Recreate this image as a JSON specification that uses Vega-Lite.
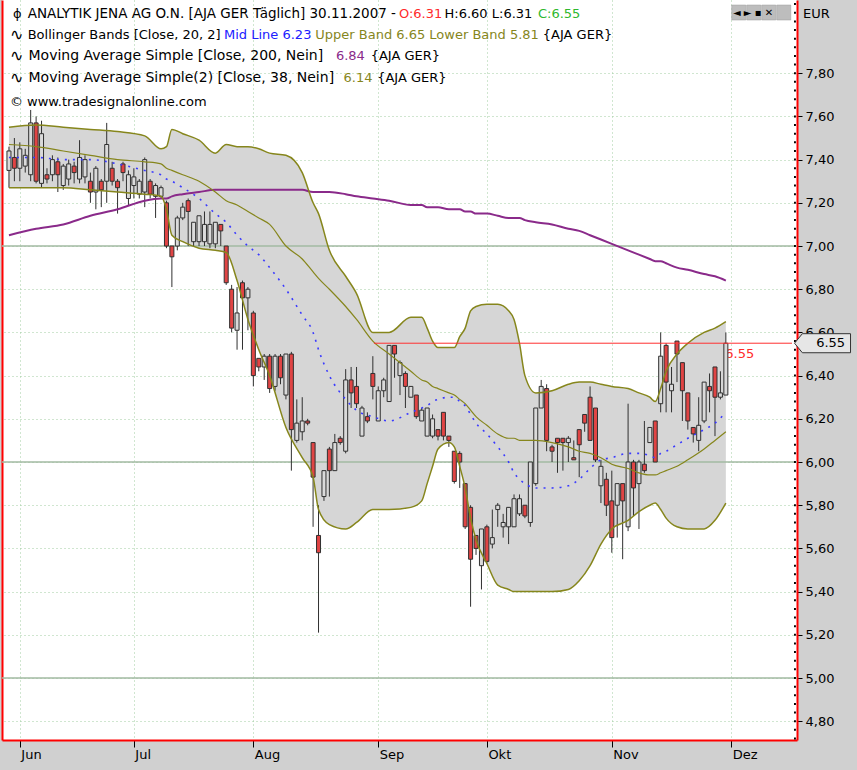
{
"$schema": "https://vega.github.io/schema/vega-lite/v6.json",
"width": 795,
"height": 740,
"autosize": {"type": "none"},
"padding": {"left": 2, "top": 0, "right": 60, "bottom": 30},
"background": "#d0d0d0",
"config": {"view": {"fill": "#ffffff", "stroke": null}, "text": {"font": "DejaVu Sans"}},
"datasets": {
"candles": [
{"i":0,"o":7.35,"h":7.46,"l":7.27,"c":7.44},{"i":1,"o":7.41,"h":7.50,"l":7.30,"c":7.36},{"i":2,"o":7.36,"h":7.48,"l":7.30,"c":7.45},{"i":3,"o":7.37,"h":7.45,"l":7.34,"c":7.42},{"i":4,"o":7.33,"h":7.63,"l":7.30,"c":7.57},{"i":5,"o":7.57,"h":7.60,"l":7.29,"c":7.30},{"i":6,"o":7.29,"h":7.58,"l":7.27,"c":7.52},{"i":7,"o":7.33,"h":7.36,"l":7.29,"c":7.31},{"i":8,"o":7.33,"h":7.42,"l":7.30,"c":7.40},{"i":9,"o":7.39,"h":7.41,"l":7.25,"c":7.33},
{"i":10,"o":7.28,"h":7.38,"l":7.26,"c":7.37},{"i":11,"o":7.31,"h":7.40,"l":7.28,"c":7.38},{"i":12,"o":7.37,"h":7.39,"l":7.29,"c":7.34},{"i":13,"o":7.31,"h":7.49,"l":7.29,"c":7.41},{"i":14,"o":7.32,"h":7.42,"l":7.29,"c":7.40},{"i":15,"o":7.30,"h":7.34,"l":7.20,"c":7.25},{"i":16,"o":7.25,"h":7.37,"l":7.17,"c":7.36},{"i":17,"o":7.30,"h":7.31,"l":7.18,"c":7.26},{"i":18,"o":7.30,"h":7.57,"l":7.20,"c":7.47},{"i":19,"o":7.36,"h":7.39,"l":7.28,"c":7.30},
{"i":20,"o":7.30,"h":7.31,"l":7.15,"c":7.27},{"i":21,"o":7.38,"h":7.39,"l":7.30,"c":7.34},{"i":22,"o":7.22,"h":7.35,"l":7.19,"c":7.33},{"i":23,"o":7.28,"h":7.36,"l":7.22,"c":7.32},{"i":24,"o":7.24,"h":7.31,"l":7.22,"c":7.30},{"i":25,"o":7.25,"h":7.41,"l":7.18,"c":7.40},{"i":26,"o":7.30,"h":7.31,"l":7.22,"c":7.24},{"i":27,"o":7.23,"h":7.29,"l":7.13,"c":7.28},{"i":28,"o":7.23,"h":7.28,"l":7.22,"c":7.27},{"i":29,"o":7.20,"h":7.21,"l":6.99,"c":7.00},
{"i":30,"o":7.00,"h":7.00,"l":6.81,"c":6.95},{"i":31,"o":7.00,"h":7.14,"l":6.98,"c":7.13},{"i":32,"o":7.13,"h":7.20,"l":7.12,"c":7.18},{"i":33,"o":7.21,"h":7.22,"l":7.00,"c":7.16},{"i":34,"o":7.02,"h":7.11,"l":7.00,"c":7.11},{"i":35,"o":7.02,"h":7.14,"l":7.00,"c":7.14},{"i":36,"o":7.02,"h":7.16,"l":7.00,"c":7.10},{"i":37,"o":7.01,"h":7.16,"l":6.99,"c":7.10},{"i":38,"o":7.01,"h":7.11,"l":6.99,"c":7.11},{"i":39,"o":7.10,"h":7.10,"l":7.00,"c":7.07},
{"i":40,"o":7.00,"h":7.00,"l":6.82,"c":6.83},{"i":41,"o":6.80,"h":6.82,"l":6.60,"c":6.62},{"i":42,"o":6.61,"h":6.81,"l":6.52,"c":6.69},{"i":43,"o":6.83,"h":6.84,"l":6.52,"c":6.76},{"i":44,"o":6.76,"h":6.81,"l":6.61,"c":6.80},{"i":45,"o":6.69,"h":6.70,"l":6.35,"c":6.40},{"i":46,"o":6.48,"h":6.48,"l":6.42,"c":6.44},{"i":47,"o":6.44,"h":6.50,"l":6.38,"c":6.49},{"i":48,"o":6.49,"h":6.50,"l":6.32,"c":6.34},{"i":49,"o":6.35,"h":6.50,"l":6.33,"c":6.49},
{"i":50,"o":6.49,"h":6.50,"l":6.36,"c":6.39},{"i":51,"o":6.31,"h":6.50,"l":6.29,"c":6.50},{"i":52,"o":6.50,"h":6.51,"l":5.96,"c":6.15},{"i":53,"o":6.10,"h":6.29,"l":6.09,"c":6.18},{"i":54,"o":6.14,"h":6.30,"l":6.10,"c":6.19},{"i":55,"o":6.19,"h":6.20,"l":6.17,"c":6.18},{"i":56,"o":6.09,"h":6.09,"l":5.70,"c":5.93},{"i":57,"o":5.66,"h":5.80,"l":5.21,"c":5.58},{"i":58,"o":5.84,"h":5.96,"l":5.82,"c":5.96},{"i":59,"o":6.06,"h":6.07,"l":5.84,"c":5.96},
{"i":60,"o":5.96,"h":6.13,"l":5.96,"c":6.09},{"i":61,"o":6.11,"h":6.12,"l":6.08,"c":6.09},{"i":62,"o":6.05,"h":6.43,"l":6.04,"c":6.38},{"i":63,"o":6.38,"h":6.44,"l":6.25,"c":6.32},{"i":64,"o":6.35,"h":6.44,"l":6.25,"c":6.27},{"i":65,"o":6.12,"h":6.26,"l":6.12,"c":6.25},{"i":66,"o":6.21,"h":6.23,"l":6.18,"c":6.19},{"i":67,"o":6.41,"h":6.49,"l":6.29,"c":6.35},{"i":68,"o":6.19,"h":6.35,"l":6.19,"c":6.33},{"i":69,"o":6.33,"h":6.39,"l":6.30,"c":6.38},
{"i":70,"o":6.28,"h":6.54,"l":6.28,"c":6.54},{"i":71,"o":6.54,"h":6.54,"l":6.39,"c":6.50},{"i":72,"o":6.40,"h":6.47,"l":6.31,"c":6.46},{"i":73,"o":6.41,"h":6.42,"l":6.25,"c":6.35},{"i":74,"o":6.30,"h":6.35,"l":6.30,"c":6.35},{"i":75,"o":6.31,"h":6.31,"l":6.20,"c":6.21},{"i":76,"o":6.19,"h":6.25,"l":6.19,"c":6.24},{"i":77,"o":6.12,"h":6.25,"l":6.12,"c":6.25},{"i":78,"o":6.12,"h":6.22,"l":6.11,"c":6.20},{"i":79,"o":6.15,"h":6.15,"l":6.10,"c":6.12},
{"i":80,"o":6.23,"h":6.23,"l":6.10,"c":6.12},{"i":81,"o":6.12,"h":6.12,"l":6.07,"c":6.10},{"i":82,"o":6.05,"h":6.05,"l":5.90,"c":5.91},{"i":83,"o":6.04,"h":6.05,"l":5.88,"c":6.00},{"i":84,"o":5.90,"h":5.90,"l":5.69,"c":5.70},{"i":85,"o":5.79,"h":5.80,"l":5.33,"c":5.55},{"i":86,"o":5.66,"h":5.66,"l":5.57,"c":5.60},{"i":87,"o":5.52,"h":5.69,"l":5.41,"c":5.69},{"i":88,"o":5.70,"h":5.71,"l":5.53,"c":5.54},{"i":89,"o":5.62,"h":5.78,"l":5.60,"c":5.65},
{"i":90,"o":5.78,"h":5.81,"l":5.70,"c":5.80},{"i":91,"o":5.70,"h":5.76,"l":5.65,"c":5.72},{"i":92,"o":5.70,"h":5.79,"l":5.62,"c":5.79},{"i":93,"o":5.70,"h":5.85,"l":5.70,"c":5.83},{"i":94,"o":5.76,"h":5.85,"l":5.75,"c":5.83},{"i":95,"o":5.80,"h":5.80,"l":5.74,"c":5.75},{"i":96,"o":5.72,"h":6.00,"l":5.70,"c":6.00},{"i":97,"o":5.90,"h":6.25,"l":5.89,"c":6.25},{"i":98,"o":6.25,"h":6.38,"l":6.25,"c":6.35},{"i":99,"o":6.34,"h":6.36,"l":6.05,"c":6.10},
{"i":100,"o":6.07,"h":6.08,"l":6.00,"c":6.05},{"i":101,"o":6.11,"h":6.11,"l":5.95,"c":6.09},{"i":102,"o":6.11,"h":6.11,"l":5.96,"c":6.09},{"i":103,"o":6.09,"h":6.12,"l":6.00,"c":6.11},{"i":104,"o":6.02,"h":6.10,"l":6.01,"c":6.01},{"i":105,"o":6.15,"h":6.15,"l":5.93,"c":6.08},{"i":106,"o":6.22,"h":6.22,"l":6.14,"c":6.18},{"i":107,"o":6.30,"h":6.35,"l":6.10,"c":6.10},{"i":108,"o":6.25,"h":6.25,"l":6.00,"c":6.01},{"i":109,"o":5.89,"h":6.01,"l":5.81,"c":5.98},
{"i":110,"o":5.92,"h":5.95,"l":5.75,"c":5.80},{"i":111,"o":5.82,"h":5.96,"l":5.58,"c":5.65},{"i":112,"o":5.80,"h":5.90,"l":5.65,"c":5.90},{"i":113,"o":5.90,"h":5.90,"l":5.55,"c":5.82},{"i":114,"o":5.70,"h":6.27,"l":5.68,"c":6.00},{"i":115,"o":6.00,"h":6.01,"l":5.75,"c":5.88},{"i":116,"o":5.90,"h":6.01,"l":5.69,"c":6.00},{"i":117,"o":5.99,"h":6.19,"l":5.95,"c":5.96},{"i":118,"o":6.09,"h":6.16,"l":6.09,"c":6.16},{"i":119,"o":6.19,"h":6.19,"l":6.00,"c":6.00},
{"i":120,"o":6.27,"h":6.60,"l":6.23,"c":6.49},{"i":121,"o":6.54,"h":6.55,"l":6.23,"c":6.37},{"i":122,"o":6.33,"h":6.44,"l":6.23,"c":6.36},{"i":123,"o":6.56,"h":6.56,"l":6.37,"c":6.50},{"i":124,"o":6.46,"h":6.46,"l":6.19,"c":6.33},{"i":125,"o":6.32,"h":6.32,"l":6.15,"c":6.19},{"i":126,"o":6.16,"h":6.16,"l":6.09,"c":6.13},{"i":127,"o":6.10,"h":6.30,"l":6.05,"c":6.17},{"i":128,"o":6.19,"h":6.37,"l":6.18,"c":6.37},{"i":129,"o":6.35,"h":6.41,"l":6.23,"c":6.33},
{"i":130,"o":6.44,"h":6.44,"l":6.12,"c":6.30},{"i":131,"o":6.30,"h":6.42,"l":6.29,"c":6.32},{"i":132,"o":6.31,"h":6.60,"l":6.31,"c":6.55}
],
"bands": [
{"i":0,"up":7.55,"lo":7.27,"mid":7.41,"m38":7.47,"m200":7.05},
{"i":5,"up":7.56,"lo":7.27,"mid":7.41,"m38":7.46,"m200":7.08},
{"i":10,"up":7.55,"lo":7.27,"mid":7.40,"m38":7.44,"m200":7.10},
{"i":15,"up":7.54,"lo":7.26,"mid":7.40,"m38":7.42,"m200":7.14},
{"i":20,"up":7.53,"lo":7.25,"mid":7.38,"m38":7.40,"m200":7.17},
{"i":25,"up":7.51,"lo":7.24,"mid":7.35,"m38":7.39,"m200":7.21},
{"i":28,"up":7.45,"lo":7.23,"mid":7.33,"m38":7.38,"m200":7.22},
{"i":29,"up":7.46,"lo":7.17,"mid":7.31,"m38":7.36,"m200":7.22},
{"i":30,"up":7.54,"lo":7.05,"mid":7.30,"m38":7.35,"m200":7.23},
{"i":32,"up":7.52,"lo":7.02,"mid":7.27,"m38":7.33,"m200":7.24},
{"i":35,"up":7.49,"lo":6.99,"mid":7.22,"m38":7.30,"m200":7.25},
{"i":38,"up":7.43,"lo":6.98,"mid":7.15,"m38":7.25,"m200":7.26},
{"i":40,"up":7.47,"lo":6.97,"mid":7.11,"m38":7.21,"m200":7.26},
{"i":42,"up":7.46,"lo":6.84,"mid":7.05,"m38":7.19,"m200":7.26},
{"i":44,"up":7.46,"lo":6.66,"mid":7.00,"m38":7.16,"m200":7.26},
{"i":46,"up":7.45,"lo":6.52,"mid":6.96,"m38":7.13,"m200":7.26},
{"i":48,"up":7.43,"lo":6.40,"mid":6.90,"m38":7.10,"m200":7.26},
{"i":51,"up":7.42,"lo":6.16,"mid":6.80,"m38":7.00,"m200":7.26},
{"i":54,"up":7.34,"lo":6.02,"mid":6.68,"m38":6.94,"m200":7.26},
{"i":56,"up":7.20,"lo":5.93,"mid":6.60,"m38":6.88,"m200":7.25},
{"i":57,"up":7.15,"lo":5.78,"mid":6.52,"m38":6.85,"m200":7.25},
{"i":59,"up":6.98,"lo":5.71,"mid":6.40,"m38":6.80,"m200":7.25},
{"i":62,"up":6.86,"lo":5.69,"mid":6.29,"m38":6.72,"m200":7.24},
{"i":64,"up":6.78,"lo":5.72,"mid":6.24,"m38":6.66,"m200":7.23},
{"i":67,"up":6.60,"lo":5.78,"mid":6.21,"m38":6.56,"m200":7.22},
{"i":70,"up":6.60,"lo":5.78,"mid":6.19,"m38":6.50,"m200":7.21},
{"i":74,"up":6.67,"lo":5.79,"mid":6.23,"m38":6.42,"m200":7.19},
{"i":76,"up":6.67,"lo":5.82,"mid":6.25,"m38":6.38,"m200":7.19},
{"i":77,"up":6.62,"lo":5.90,"mid":6.26,"m38":6.37,"m200":7.18},
{"i":78,"up":6.56,"lo":5.98,"mid":6.28,"m38":6.35,"m200":7.18},
{"i":79,"up":6.53,"lo":6.06,"mid":6.29,"m38":6.34,"m200":7.18},
{"i":81,"up":6.53,"lo":6.09,"mid":6.30,"m38":6.32,"m200":7.17},
{"i":82,"up":6.53,"lo":6.07,"mid":6.30,"m38":6.31,"m200":7.17},
{"i":83,"up":6.58,"lo":5.98,"mid":6.28,"m38":6.29,"m200":7.17},
{"i":84,"up":6.62,"lo":5.88,"mid":6.26,"m38":6.27,"m200":7.16},
{"i":85,"up":6.70,"lo":5.74,"mid":6.22,"m38":6.24,"m200":7.16},
{"i":86,"up":6.72,"lo":5.64,"mid":6.18,"m38":6.21,"m200":7.15},
{"i":88,"up":6.73,"lo":5.53,"mid":6.13,"m38":6.17,"m200":7.15},
{"i":90,"up":6.73,"lo":5.43,"mid":6.07,"m38":6.13,"m200":7.14},
{"i":92,"up":6.70,"lo":5.41,"mid":6.00,"m38":6.11,"m200":7.13},
{"i":93,"up":6.66,"lo":5.40,"mid":5.95,"m38":6.11,"m200":7.13},
{"i":94,"up":6.55,"lo":5.40,"mid":5.92,"m38":6.10,"m200":7.13},
{"i":95,"up":6.40,"lo":5.40,"mid":5.90,"m38":6.10,"m200":7.12},
{"i":97,"up":6.32,"lo":5.40,"mid":5.88,"m38":6.10,"m200":7.11},
{"i":100,"up":6.33,"lo":5.40,"mid":5.88,"m38":6.09,"m200":7.10},
{"i":103,"up":6.36,"lo":5.41,"mid":5.89,"m38":6.07,"m200":7.08},
{"i":105,"up":6.37,"lo":5.45,"mid":5.92,"m38":6.05,"m200":7.07},
{"i":107,"up":6.37,"lo":5.52,"mid":5.97,"m38":6.04,"m200":7.05},
{"i":109,"up":6.36,"lo":5.62,"mid":6.01,"m38":6.02,"m200":7.03},
{"i":111,"up":6.35,"lo":5.69,"mid":6.02,"m38":5.99,"m200":7.01},
{"i":114,"up":6.34,"lo":5.73,"mid":6.04,"m38":5.97,"m200":6.98},
{"i":116,"up":6.32,"lo":5.77,"mid":6.04,"m38":5.95,"m200":6.96},
{"i":118,"up":6.30,"lo":5.80,"mid":6.03,"m38":5.94,"m200":6.94},
{"i":119,"up":6.28,"lo":5.81,"mid":6.02,"m38":5.94,"m200":6.93},
{"i":120,"up":6.34,"lo":5.78,"mid":6.04,"m38":5.95,"m200":6.93},
{"i":121,"up":6.42,"lo":5.74,"mid":6.05,"m38":5.96,"m200":6.92},
{"i":123,"up":6.50,"lo":5.70,"mid":6.08,"m38":5.98,"m200":6.90},
{"i":125,"up":6.55,"lo":5.69,"mid":6.11,"m38":6.01,"m200":6.89},
{"i":128,"up":6.60,"lo":5.69,"mid":6.15,"m38":6.06,"m200":6.87},
{"i":130,"up":6.62,"lo":5.73,"mid":6.18,"m38":6.10,"m200":6.86},
{"i":132,"up":6.65,"lo":5.81,"mid":6.23,"m38":6.14,"m200":6.84}
],
"levels": [{"g": 5}, {"g": 6}, {"g": 7}],
"minor": [
{"v":4.72},{"v":4.76},{"v":4.80},{"v":4.84},{"v":4.88},{"v":4.92},{"v":4.96},{"v":5.00},{"v":5.04},{"v":5.08},{"v":5.12},{"v":5.16},{"v":5.20},{"v":5.24},{"v":5.28},{"v":5.32},{"v":5.36},{"v":5.40},{"v":5.44},{"v":5.48},{"v":5.52},{"v":5.56},{"v":5.60},{"v":5.64},{"v":5.68},{"v":5.72},{"v":5.76},{"v":5.80},{"v":5.84},{"v":5.88},{"v":5.92},{"v":5.96},{"v":6.00},{"v":6.04},{"v":6.08},{"v":6.12},{"v":6.16},{"v":6.20},{"v":6.24},{"v":6.28},{"v":6.32},{"v":6.36},{"v":6.40},{"v":6.44},{"v":6.48},{"v":6.52},{"v":6.56},{"v":6.60},{"v":6.64},{"v":6.68},{"v":6.72},{"v":6.76},{"v":6.80},{"v":6.84},{"v":6.88},{"v":6.92},{"v":6.96},{"v":7.00},{"v":7.04},{"v":7.08},{"v":7.12},{"v":7.16},{"v":7.20},{"v":7.24},{"v":7.28},{"v":7.32},{"v":7.36},{"v":7.40},{"v":7.44},{"v":7.48},{"v":7.52},{"v":7.56},{"v":7.60},{"v":7.64},{"v":7.68},{"v":7.72},{"v":7.76},{"v":7.80},{"v":7.84},{"v":7.88},{"v":7.92},{"v":7.96},{"v":8.00},{"v":8.04},{"v":8.08},{"v":8.12}
]
},
"resolve": {"axis": {"x": "independent", "y": "independent"}},
"layer": [
{"data": {"name": "bands"},
 "mark": {"type": "area", "fill": "#d6d6d6", "interpolate": "monotone"},
 "encoding": {
  "x": {"field": "i", "type": "quantitative", "scale": {"domain": [-0.36, 144.18], "nice": false, "zero": false},
        "axis": {"values": [2, 23, 45, 68, 88, 111, 133], "labelExpr": "['Jun','Jul','Aug','Sep','Okt','Nov','Dez'][indexof([2,23,45,68,88,111,133], datum.value)]",
                 "labelAlign": "left", "labelOffset": 1, "labelPadding": 1, "labelFont": "DejaVu Sans", "labelFontSize": 13, "labelColor": "#000000",
                 "tickSize": 7, "tickColor": "#000000", "domainColor": "#ff0000", "domainWidth": 2,
                 "grid": true, "gridColor": "#a0cca0", "gridDash": [1, 3], "title": null}},
  "y": {"field": "up", "type": "quantitative", "scale": {"domain": [4.713, 8.139], "nice": false, "zero": false},
        "axis": {"orient": "left", "labels": false, "ticks": false, "grid": false, "domainColor": "#ff0000", "domainWidth": 2, "title": null}},
  "y2": {"field": "lo"}
 }},
{"data": {"name": "levels"},
 "mark": {"type": "rule", "color": "#a2baa2", "strokeWidth": 1.5},
 "encoding": {"y": {"field": "g", "type": "quantitative", "axis": null}}},
{"data": {"name": "minor"},
 "mark": {"type": "rule", "color": "#000000", "strokeWidth": 2},
 "encoding": {"x": {"datum": 144.55, "type": "quantitative", "axis": null}, "x2": {"datum": 144.9}, "y": {"field": "v", "type": "quantitative", "axis": null}}},
{"data": {"values": [{}]},
 "mark": {"type": "text", "align": "left", "baseline": "middle", "fontSize": 13, "color": "#ff2a2a"},
 "encoding": {"x": {"datum": 131.9, "type": "quantitative", "axis": null}, "y": {"datum": 6.5, "type": "quantitative", "axis": null}, "text": {"value": "6.55"}}},
{"data": {"name": "candles"},
 "mark": {"type": "rule", "color": "#303030", "strokeWidth": 1},
 "encoding": {
  "x": {"field": "i", "type": "quantitative", "axis": null},
  "y": {"field": "l", "type": "quantitative",
        "axis": {"orient": "right", "values": [4.8, 5, 5.2, 5.4, 5.6, 5.8, 6, 6.2, 6.4, 6.6, 6.8, 7, 7.2, 7.4, 7.6, 7.8],
                 "labelExpr": "replace(format(datum.value, '.2f'), '.', ',')", "labelFont": "DejaVu Sans", "labelFontSize": 13, "labelColor": "#000000",
                 "labelPadding": 3, "tickSize": 5, "tickColor": "#000000", "domainColor": "#ff0000", "domainWidth": 2,
                 "grid": true, "gridColor": "#a0cca0", "gridDash": [1, 3], "title": null}},
  "y2": {"field": "h"}
 }},
{"data": {"name": "candles"},
 "mark": {"type": "bar", "size": 4, "stroke": "#303030", "strokeWidth": 1},
 "encoding": {
  "x": {"field": "i", "type": "quantitative", "axis": null},
  "y": {"field": "o", "type": "quantitative", "axis": null},
  "y2": {"field": "c"},
  "fill": {"condition": {"test": "datum.o > datum.c", "value": "#e04444"}, "value": "#dadada"}
 }},
{"data": {"name": "bands"},
 "mark": {"type": "line", "color": "#8a2a8a", "strokeWidth": 2, "interpolate": "monotone"},
 "encoding": {"x": {"field": "i", "type": "quantitative", "axis": null}, "y": {"field": "m200", "type": "quantitative", "axis": null}}},
{"data": {"name": "bands"},
 "mark": {"type": "line", "color": "#86861c", "strokeWidth": 1.5, "interpolate": "monotone"},
 "encoding": {"x": {"field": "i", "type": "quantitative", "axis": null}, "y": {"field": "up", "type": "quantitative", "axis": null}}},
{"data": {"name": "bands"},
 "mark": {"type": "line", "color": "#86861c", "strokeWidth": 1.5, "interpolate": "monotone"},
 "encoding": {"x": {"field": "i", "type": "quantitative", "axis": null}, "y": {"field": "lo", "type": "quantitative", "axis": null}}},
{"data": {"name": "bands"},
 "mark": {"type": "line", "color": "#86861c", "strokeWidth": 1.2, "interpolate": "monotone"},
 "encoding": {"x": {"field": "i", "type": "quantitative", "axis": null}, "y": {"field": "m38", "type": "quantitative", "axis": null}}},
{"data": {"name": "bands"},
 "mark": {"type": "line", "color": "#3a3aff", "strokeWidth": 1.6, "strokeDash": [2, 6], "interpolate": "monotone"},
 "encoding": {"x": {"field": "i", "type": "quantitative", "axis": null}, "y": {"field": "mid", "type": "quantitative", "axis": null}}},
{"data": {"values": [{}]},
 "mark": {"type": "rule", "color": "#ff3030", "strokeWidth": 1},
 "encoding": {"x": {"datum": 67.2, "type": "quantitative", "axis": null}, "x2": {"datum": 144.18}, "y": {"datum": 6.55, "type": "quantitative", "axis": null}}},
{"data": {"values": [{}]},
 "mark": {"type": "point", "filled": true, "fill": "#e6e6e6", "stroke": "#333333", "strokeWidth": 1, "opacity": 1, "size": 3136,
          "shape": "M -1 0 L -0.72 -0.34 L 1 -0.34 L 1 0.34 L -0.72 0.34 Z"},
 "encoding": {"x": {"datum": 149.8, "type": "quantitative", "axis": null}, "y": {"datum": 6.55, "type": "quantitative", "axis": null}}},
{"data": {"values": [{}]},
 "mark": {"type": "text", "align": "center", "baseline": "middle", "fontSize": 13, "color": "#000000"},
 "encoding": {"x": {"datum": 151.3, "type": "quantitative", "axis": null}, "y": {"datum": 6.55, "type": "quantitative", "axis": null}, "text": {"value": "6.55"}}},
{"data": {"values": [{}]},
 "mark": {"type": "text", "align": "left", "baseline": "middle", "fontSize": 13, "color": "#000000"},
 "encoding": {"x": {"datum": 146.2, "type": "quantitative", "axis": null}, "y": {"datum": 8.074, "type": "quantitative", "axis": null}, "text": {"value": "EUR"}}},
{"data": {"values": [{}]},
 "mark": {"type": "point", "filled": true, "fill": "#bdbdbd", "stroke": "#9a9a9a", "strokeWidth": 0.5, "opacity": 1, "size": 3600,
          "shape": "M -1 -0.25 L -0.53 -0.25 L -0.53 0.25 L -1 0.25 Z M -0.5 -0.25 L -0.03 -0.25 L -0.03 0.25 L -0.5 0.25 Z M 0 -0.25 L 0.47 -0.25 L 0.47 0.25 L 0 0.25 Z M 0.5 -0.25 L 0.97 -0.25 L 0.97 0.25 L 0.5 0.25 Z"},
 "encoding": {"x": {"datum": 138.6, "type": "quantitative", "axis": null}, "y": {"datum": 8.081, "type": "quantitative", "axis": null}}},
{"data": {"values": [{}]},
 "mark": {"type": "text", "align": "center", "baseline": "middle", "fontSize": 10, "color": "#000000"},
 "encoding": {"x": {"datum": 137.0, "type": "quantitative", "axis": null}, "y": {"datum": 8.081, "type": "quantitative", "axis": null}, "text": {"value": "◄   ►   ▪   ✕"}}},
{"data": {"values": [{}]},
 "mark": {"type": "text", "align": "left", "baseline": "middle", "fontSize": 13, "color": "#000000"},
 "encoding": {"x": {"datum": 0.73, "type": "quantitative", "axis": null}, "y": {"datum": 8.074, "type": "quantitative", "axis": null}, "text": {"value": "ϕ"}}},
{"data": {"values": [{}]},
 "mark": {"type": "text", "align": "left", "baseline": "middle", "fontSize": 13.5, "color": "#000000"},
 "encoding": {"x": {"datum": 3.45, "type": "quantitative", "axis": null}, "y": {"datum": 8.074, "type": "quantitative", "axis": null}, "text": {"value": "ANALYTIK JENA AG O.N. [AJA GER  Täglich] 30.11.2007 -"}}},
{"data": {"values": [{}]},
 "mark": {"type": "text", "align": "left", "baseline": "middle", "fontSize": 13, "color": "#ff2a2a"},
 "encoding": {"x": {"datum": 71.8, "type": "quantitative", "axis": null}, "y": {"datum": 8.074, "type": "quantitative", "axis": null}, "text": {"value": "O:6.31"}}},
{"data": {"values": [{}]},
 "mark": {"type": "text", "align": "left", "baseline": "middle", "fontSize": 13, "color": "#000000"},
 "encoding": {"x": {"datum": 80.2, "type": "quantitative", "axis": null}, "y": {"datum": 8.074, "type": "quantitative", "axis": null}, "text": {"value": "H:6.60 L:6.31"}}},
{"data": {"values": [{}]},
 "mark": {"type": "text", "align": "left", "baseline": "middle", "fontSize": 13, "color": "#2eb82e"},
 "encoding": {"x": {"datum": 97.4, "type": "quantitative", "axis": null}, "y": {"datum": 8.074, "type": "quantitative", "axis": null}, "text": {"value": "C:6.55"}}},
{"data": {"values": [{}]},
 "mark": {"type": "text", "align": "left", "baseline": "middle", "fontSize": 16, "color": "#000000"},
 "encoding": {"x": {"datum": 0.2, "type": "quantitative", "axis": null}, "y": {"datum": 7.977, "type": "quantitative", "axis": null}, "text": {"value": "∿"}}},
{"data": {"values": [{}]},
 "mark": {"type": "text", "align": "left", "baseline": "middle", "fontSize": 13, "color": "#000000"},
 "encoding": {"x": {"datum": 3.45, "type": "quantitative", "axis": null}, "y": {"datum": 7.977, "type": "quantitative", "axis": null}, "text": {"value": "Bollinger Bands [Close, 20, 2]"}}},
{"data": {"values": [{}]},
 "mark": {"type": "text", "align": "left", "baseline": "middle", "fontSize": 13, "color": "#2020ff"},
 "encoding": {"x": {"datum": 39.6, "type": "quantitative", "axis": null}, "y": {"datum": 7.977, "type": "quantitative", "axis": null}, "text": {"value": "Mid Line 6.23"}}},
{"data": {"values": [{}]},
 "mark": {"type": "text", "align": "left", "baseline": "middle", "fontSize": 13, "color": "#86861c"},
 "encoding": {"x": {"datum": 56.4, "type": "quantitative", "axis": null}, "y": {"datum": 7.977, "type": "quantitative", "axis": null}, "text": {"value": "Upper Band 6.65 Lower Band 5.81"}}},
{"data": {"values": [{}]},
 "mark": {"type": "text", "align": "left", "baseline": "middle", "fontSize": 13, "color": "#000000"},
 "encoding": {"x": {"datum": 98.3, "type": "quantitative", "axis": null}, "y": {"datum": 7.977, "type": "quantitative", "axis": null}, "text": {"value": "{AJA GER}"}}},
{"data": {"values": [{}]},
 "mark": {"type": "text", "align": "left", "baseline": "middle", "fontSize": 16, "color": "#000000"},
 "encoding": {"x": {"datum": 0.2, "type": "quantitative", "axis": null}, "y": {"datum": 7.88, "type": "quantitative", "axis": null}, "text": {"value": "∿"}}},
{"data": {"values": [{}]},
 "mark": {"type": "text", "align": "left", "baseline": "middle", "fontSize": 14, "color": "#000000"},
 "encoding": {"x": {"datum": 3.6, "type": "quantitative", "axis": null}, "y": {"datum": 7.88, "type": "quantitative", "axis": null}, "text": {"value": "Moving Average Simple [Close, 200, Nein]"}}},
{"data": {"values": [{}]},
 "mark": {"type": "text", "align": "left", "baseline": "middle", "fontSize": 13, "color": "#8a2a8a"},
 "encoding": {"x": {"datum": 60.2, "type": "quantitative", "axis": null}, "y": {"datum": 7.88, "type": "quantitative", "axis": null}, "text": {"value": "6.84"}}},
{"data": {"values": [{}]},
 "mark": {"type": "text", "align": "left", "baseline": "middle", "fontSize": 13, "color": "#000000"},
 "encoding": {"x": {"datum": 66.6, "type": "quantitative", "axis": null}, "y": {"datum": 7.88, "type": "quantitative", "axis": null}, "text": {"value": "{AJA GER}"}}},
{"data": {"values": [{}]},
 "mark": {"type": "text", "align": "left", "baseline": "middle", "fontSize": 16, "color": "#000000"},
 "encoding": {"x": {"datum": 0.2, "type": "quantitative", "axis": null}, "y": {"datum": 7.778, "type": "quantitative", "axis": null}, "text": {"value": "∿"}}},
{"data": {"values": [{}]},
 "mark": {"type": "text", "align": "left", "baseline": "middle", "fontSize": 14, "color": "#000000"},
 "encoding": {"x": {"datum": 3.6, "type": "quantitative", "axis": null}, "y": {"datum": 7.778, "type": "quantitative", "axis": null}, "text": {"value": "Moving Average Simple(2) [Close, 38, Nein]"}}},
{"data": {"values": [{}]},
 "mark": {"type": "text", "align": "left", "baseline": "middle", "fontSize": 13, "color": "#86861c"},
 "encoding": {"x": {"datum": 61.6, "type": "quantitative", "axis": null}, "y": {"datum": 7.778, "type": "quantitative", "axis": null}, "text": {"value": "6.14"}}},
{"data": {"values": [{}]},
 "mark": {"type": "text", "align": "left", "baseline": "middle", "fontSize": 13, "color": "#000000"},
 "encoding": {"x": {"datum": 67.8, "type": "quantitative", "axis": null}, "y": {"datum": 7.778, "type": "quantitative", "axis": null}, "text": {"value": "{AJA GER}"}}},
{"data": {"values": [{}]},
 "mark": {"type": "text", "align": "left", "baseline": "middle", "fontSize": 13, "color": "#000000"},
 "encoding": {"x": {"datum": 0.18, "type": "quantitative", "axis": null}, "y": {"datum": 7.667, "type": "quantitative", "axis": null}, "text": {"value": "© www.tradesignalonline.com"}}}
]
}
